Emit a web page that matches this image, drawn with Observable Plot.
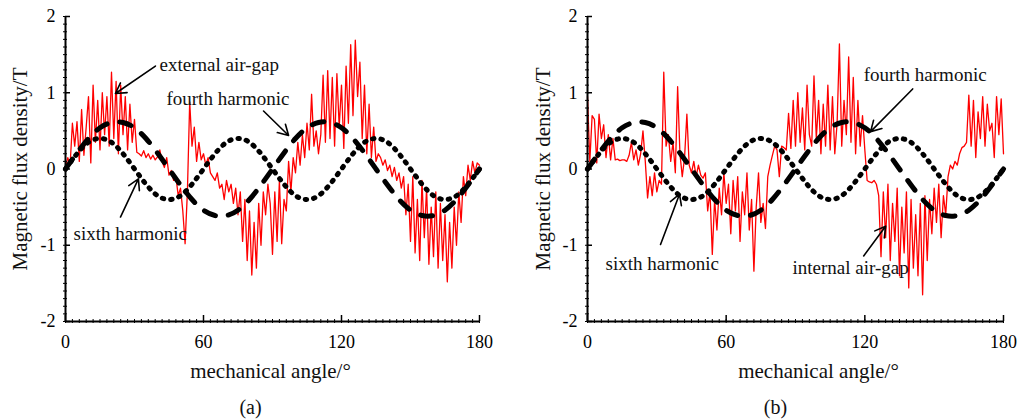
<!DOCTYPE html>
<html><head><meta charset="utf-8">
<script src="https://cdn.jsdelivr.net/npm/d3@7"></script>
<script src="https://cdn.jsdelivr.net/npm/@observablehq/plot@0.6"></script>
<style>
html,body{margin:0;padding:0;background:#fff;}
#wrap{position:relative;width:1019px;height:419px;overflow:hidden;font-family:"Liberation Serif",serif;}
#wrap > div{position:absolute;top:0;}
</style></head><body>
<div id="wrap"><div id="pa" style="left:0px"></div><div id="pb" style="left:509px"></div></div>
<script>
// ---- data ----
const xTicks = [0, 60, 120, 180];
const yTicks = [-2, -1, 0, 1, 2];
const redStep = 1;        // degrees between red samples
const harmonicStep = 5;   // degrees between harmonic samples

const fourthHarmonic = [0, 0.21, 0.40, 0.54, 0.61, 0.61, 0.54, 0.40, 0.21, 0, -0.21, -0.40, -0.54, -0.61, -0.61, -0.54, -0.40, -0.21,
  0, 0.21, 0.40, 0.54, 0.61, 0.61, 0.54, 0.40, 0.21, 0, -0.21, -0.40, -0.54, -0.61, -0.61, -0.54, -0.40, -0.21, 0];
const sixthHarmonic = [0, 0.20, 0.35, 0.40, 0.35, 0.20, 0, -0.20, -0.35, -0.40, -0.35, -0.20,
  0, 0.20, 0.35, 0.40, 0.35, 0.20, 0, -0.20, -0.35, -0.40, -0.35, -0.20,
  0, 0.20, 0.35, 0.40, 0.35, 0.20, 0, -0.20, -0.35, -0.40, -0.35, -0.20, 0];

const externalGap = [
  0.02, 0.15, 0.05, 0.60, 0.30, 0.62, 0.10, 0.78, 0.18, 0.55,
  0.95, 0.08, 1.10, 0.35, 0.90, 0.25, 1.00, 0.45, 0.95, 0.30,
  1.27, 0.40, 1.15, 0.20, 1.10, 0.45, 0.95, 0.25, 0.85, 0.35,
  0.65, 0.22, 0.20, 0.17, 0.24, 0.15, 0.20, 0.13, 0.18, 0.12,
  0.16, 0.25, 0.10, 0.02, 0.15, -0.08, -0.02, -0.15, -0.10, -0.35,
  -0.25, -0.55, -0.98, -0.30, 0.88, 0.30, 0.55, 0.10, 0.35, 0.12,
  0.20, 0.05, 0.15, -0.05, -0.10, -0.15, -0.05, -0.25, -0.20, -0.40,
  -0.15, -0.30, -0.20, -0.45, -0.25, -0.60, -0.30, -0.95, -0.40, -1.20,
  -0.55, -1.39, -0.70, -1.30, -0.45, -1.00, -0.30, -0.60, -0.20, -0.45,
  -1.12, -0.30, -0.95, -0.15, -0.98, -0.40, -0.55, 0.10, -0.30, 0.15,
  -0.05, 0.35, 0.05, 0.45, 0.15, 0.60, 0.25, 0.98, 0.30, 0.50,
  0.20, 0.45, 1.23, 0.35, 1.29, 0.40, 1.20, 0.30, 1.25, 0.55,
  1.10, 0.27, 1.35, 0.60, 1.63, 0.70, 1.69, 0.95, 1.40, 0.40,
  1.10, 0.20, 0.85, 0.15, 0.55, 0.10, 0.20, 0.15, 0.05, 0.12,
  -0.02, 0.05, -0.10, 0.02, -0.15, -0.05, -0.25, -0.10, -0.60, -0.20,
  -0.95, -0.10, -1.10, -0.40, -1.20, -0.15, -0.90, -0.25, -1.25, -0.50,
  -1.15, -0.30, -1.30, -0.45, -1.20, -0.60, -1.48, -0.70, -1.30, -0.50,
  -1.00, -0.30, -0.70, -0.10, -0.35, 0.05, -0.15, 0.10, -0.05, 0.08, 0.05];

const internalGap = [
  0.95, 0.10, 0.70, 0.65, 0.08, 0.72, 0.40, 0.58, 0.15, 0.45,
  0.12, 0.40, 0.12, 0.13, 0.11, 0.12, 0.12, 0.10, 0.18, 0.35,
  0.12, 0.25, 0.05, 0.20, 0.50, 0.10, -0.38, -0.10, -0.35, -0.05,
  -0.30, -0.15, -0.20, 1.27, 0.30, 0.45, 0.10, 0.35, -0.05, 1.08,
  0.20, -0.10, 0.15, 0.72, 0.05, -0.05, 0.10, -0.10, 0.05, -0.08,
  -0.12, -0.05, -0.55, -0.30, -1.12, -0.40, -0.80, -0.25, -0.60, -0.05,
  -0.45, -0.20, -0.85, -0.15, -0.55, -0.10, -0.95, -0.30, -0.60, -0.05,
  -0.80, -0.40, -1.34, -0.50, -0.05, -0.70, -0.45, -0.78, -0.10, 0.05,
  0.18, 0.30, 0.25, -0.10, 0.30, 0.28, 0.25, 0.73, 0.27, 0.90,
  0.30, 1.00, 0.35, 0.80, 0.25, 1.10, 0.45, 0.30, 1.22, 0.40,
  0.90, 0.20, 0.85, 0.30, 1.10, 0.25, 0.95, 0.20, 0.60, 1.64,
  0.30, 0.90, 0.45, 1.47, 0.35, 1.20, 0.20, 0.90, 0.30, 0.70,
  0.25, -0.15, -0.17, -0.18, -0.15, -0.20, -0.35, -1.15, -0.30, -0.90,
  -0.20, -1.20, -0.45, -0.95, -0.25, -1.40, -0.50, -1.10, -0.30, -1.56,
  -0.40, -1.30, -0.60, -1.40, -0.45, -1.65, -0.35, -1.20, -0.40, -0.85,
  -0.25, -0.70, -0.20, -0.90, -0.35, -0.60, -0.10, 0.05, 0.00, 0.10,
  0.05, 0.20, 0.28, 0.30, 0.35, 0.97, 0.30, 0.90, 0.15, 0.75,
  0.40, 0.95, 0.30, 0.85, 0.50, 0.60, 0.15, 0.95, 0.45, 0.92, 0.20];

// annotations (data units: degrees, tesla)
const labelsA = ["external air-gap", "fourth harmonic", "sixth harmonic"];
const labelXA = [40.9, 43.9, 3.5];
const labelYA = [1.37, 0.92, -0.85];
const arrowX1A = [39.1, 86.1, 23.9];
const arrowY1A = [1.35, 0.76, -0.63];
const arrowX2A = [21.7, 97.0, 31.7];
const arrowY2A = [0.99, 0.44, -0.13];

const labelsB = ["fourth harmonic", "sixth harmonic", "internal air-gap"];
const labelXB = [119.5, 7.8, 88.7];
const labelYB = [1.24, -1.25, -1.30];
const arrowX1B = [140.7, 31.6, 119.5];
const arrowY1B = [1.05, -0.99, -1.14];
const arrowX2B = [122.5, 39.8, 129.0];
const arrowY2B = [0.49, -0.33, -0.75];

const yLabel = "Magnetic flux density/T";
const xLabel = "mechanical angle/°";

// ---- drawing ----
const toRows = (vals, step) => vals.map((v, i) => ({angle: i * step, b: v}));
const h4 = toRows(fourthHarmonic, harmonicStep);
const h6 = toRows(sixthHarmonic, harmonicStep);
const minorY = d3.range(-20, 21).map(d => d / 10);
const minorX = d3.range(0, 181, 3);

function panel(cfg) {
  return Plot.plot({
    width: cfg.width, height: 419,
    marginLeft: cfg.marginLeft, marginRight: cfg.marginRight, marginTop: 16, marginBottom: 98,
    x: {domain: [0, 180]},
    y: {domain: [-2, 2]},
    style: {fontFamily: "'Liberation Serif', serif", fontSize: "18px", color: "#000", background: "white", overflow: "visible"},
    marks: [
      Plot.line(toRows(cfg.red, redStep), {x: "angle", y: "b", stroke: "#ff0000", strokeWidth: 1.3}),
      Plot.line(h4, {x: "angle", y: "b", stroke: "black", strokeWidth: 5, strokeDasharray: "12,13", strokeLinecap: "round", curve: "natural"}),
      Plot.line(h6, {x: "angle", y: "b", stroke: "black", strokeWidth: 5, strokeDasharray: "1.5,7", strokeLinecap: "round", curve: "natural"}),
      Plot.ruleX([0], {stroke: "black", strokeWidth: 2}),
      Plot.ruleY([-2], {stroke: "black", strokeWidth: 2}),
      Plot.axisY({ticks: minorY, tickSize: 4, dx: 2, tickFormat: () => "", label: null, strokeWidth: 1}),
      Plot.axisX({ticks: minorX, tickSize: 4, dy: -2, tickFormat: () => "", label: null, strokeWidth: 1}),
      Plot.axisY({ticks: yTicks, tickSize: 5, dx: 5, tickFormat: () => "", label: null, strokeWidth: 1.5}),
      Plot.axisX({ticks: xTicks, tickSize: 6, dy: -6, tickFormat: () => "", label: null, strokeWidth: 1.5}),
      Plot.axisY({ticks: yTicks, tickSize: 0, tickPadding: 10, tickFormat: d => String(d), label: null, fontSize: 18}),
      Plot.axisX({ticks: xTicks, tickSize: 0, tickPadding: 14, tickFormat: d => String(d), label: null, fontSize: 18}),
      Plot.arrow(cfg.labels, {x1: cfg.ax1, y1: cfg.ay1, x2: cfg.ax2, y2: cfg.ay2, stroke: "black", strokeWidth: 1.6, headLength: 11}),
      Plot.text(cfg.labels, {x: cfg.lx, y: cfg.ly, textAnchor: "start", fontSize: 19, fill: "#111"}),
      Plot.text([yLabel], {frameAnchor: "left", textAnchor: "middle", lineAnchor: "middle", rotate: -90, dx: cfg.ylabelDx, fontSize: 21, fill: "#111"}),
      Plot.text([xLabel], {frameAnchor: "bottom", textAnchor: "middle", lineAnchor: "middle", dy: 50, dx: cfg.xlabelDx, fontSize: 21, fill: "#111"}),
      Plot.text([cfg.caption], {frameAnchor: "bottom", textAnchor: "middle", lineAnchor: "middle", dy: 86, dx: cfg.capDx, fontSize: 20, fill: "#111"})
    ]
  });
}

document.getElementById("pa").append(panel({
  width: 509, marginLeft: 65, marginRight: 30, red: externalGap,
  labels: labelsA, lx: labelXA, ly: labelYA, ax1: arrowX1A, ay1: arrowY1A, ax2: arrowX2A, ay2: arrowY2A,
  caption: "(a)", ylabelDx: -45, xlabelDx: -2, capDx: -22
}));
document.getElementById("pb").append(panel({
  width: 510, marginLeft: 78, marginRight: 16, red: internalGap,
  labels: labelsB, lx: labelXB, ly: labelYB, ax1: arrowX1B, ay1: arrowY1B, ax2: arrowX2B, ay2: arrowY2B,
  caption: "(b)", ylabelDx: -44, xlabelDx: 23, capDx: -20
}));
</script>
</body></html>
